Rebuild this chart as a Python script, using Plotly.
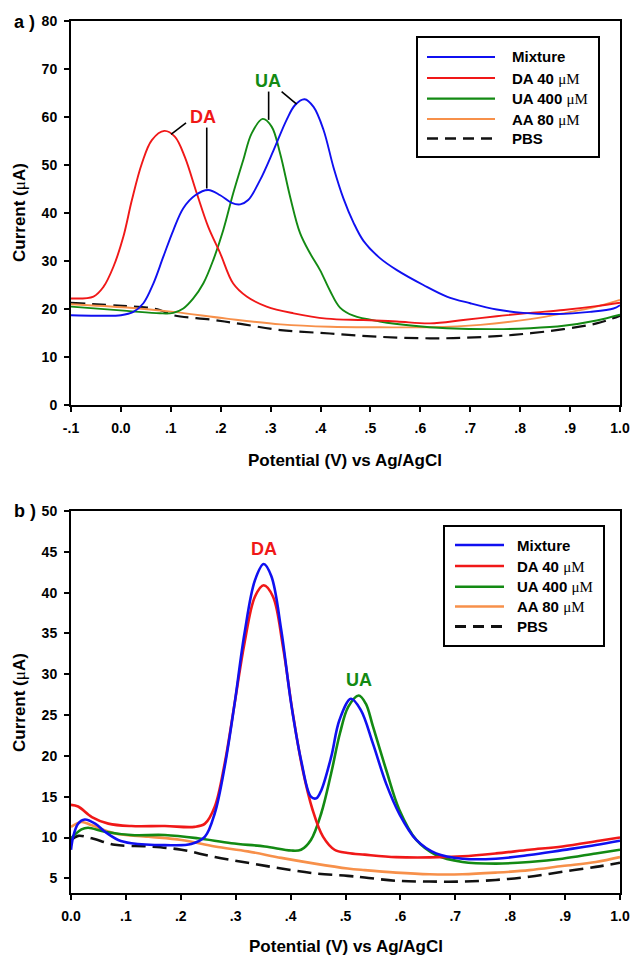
import plotly.graph_objects as go

W, H = 630, 958

# ---------------- data: panel a ----------------
a_mix_x = [-0.1, -0.05, 0.0, 0.025, 0.045, 0.065, 0.085, 0.105, 0.125, 0.149, 0.175, 0.199, 0.222, 0.239,
           0.255, 0.279, 0.306, 0.332, 0.349, 0.368, 0.386, 0.406, 0.426, 0.446, 0.466, 0.486, 0.519, 0.553,
           0.606, 0.653, 0.70, 0.753, 0.806, 0.873, 0.94, 0.987, 1.0]
a_mix_y = [18.7, 18.6, 18.7, 19.4, 21.2, 25.3, 30.9, 36.4, 41.0, 43.7, 44.8, 43.7, 42.1, 41.8,
           42.7, 46.9, 53.1, 59.4, 62.5, 63.7, 62.1, 57.3, 49.5, 43.0, 38.0, 34.2, 30.6, 28.1,
           25.0, 22.6, 21.2, 19.9, 19.2, 18.96, 19.4, 20.1, 20.8]

a_da_x = [-0.1, -0.055, -0.035, -0.015, 0.005, 0.022, 0.042, 0.062, 0.087, 0.108, 0.128, 0.152, 0.175,
          0.199, 0.225, 0.252, 0.292, 0.346, 0.412, 0.486, 0.553, 0.619, 0.686, 0.753, 0.82, 0.887, 0.953, 1.0]
a_da_y = [22.2, 22.6, 24.6, 28.8, 35.1, 42.7, 50.3, 55.2, 57.1, 55.9, 51.7, 44.1, 37.1,
          31.6, 25.3, 22.6, 20.5, 19.1, 18.0, 17.7, 17.4, 17.0, 17.7, 18.5, 19.2, 19.8, 20.6, 21.3]

a_ua_x = [-0.1, 0.012, 0.078, 0.105, 0.125, 0.145, 0.165, 0.185, 0.205, 0.225, 0.245, 0.262, 0.284,
          0.302, 0.319, 0.339, 0.359, 0.379, 0.399, 0.419, 0.439, 0.466, 0.519, 0.586, 0.653, 0.753,
          0.82, 0.887, 0.953, 1.0]
a_ua_y = [20.5, 19.6, 19.1, 19.2, 20.1, 22.2, 25.3, 30.2, 36.4, 44.1, 51.0, 56.6, 59.6,
          58.0, 52.4, 43.4, 35.8, 31.6, 28.1, 23.8, 20.3, 18.6, 17.4, 16.5, 16.0, 15.8,
          16.0, 16.5, 17.6, 18.8]

a_aa_x = [-0.1, 0.012, 0.105, 0.212, 0.32, 0.419, 0.519, 0.619, 0.72, 0.82, 0.887, 0.953, 1.0]
a_aa_y = [21.0, 20.3, 19.4, 18.0, 16.8, 16.3, 16.2, 16.2, 16.7, 17.9, 19.1, 20.5, 21.9]

a_pbs_x = [-0.1, 0.012, 0.052, 0.078, 0.105, 0.179, 0.24, 0.32, 0.419, 0.519, 0.619, 0.686, 0.786,
           0.887, 0.953, 1.0]
a_pbs_y = [21.3, 20.6, 20.3, 19.8, 18.7, 17.8, 16.9, 15.6, 14.9, 14.2, 13.9, 14.0, 14.6,
           15.8, 17.0, 18.6]

# ---------------- data: panel b ----------------
b_mix_x = [0.0, 0.004, 0.013, 0.025, 0.044, 0.062, 0.086, 0.11, 0.171, 0.219, 0.244, 0.262, 0.28, 0.298,
           0.316, 0.335, 0.351, 0.365, 0.383, 0.401, 0.419, 0.437, 0.447, 0.456, 0.474, 0.489, 0.51,
           0.528, 0.55, 0.574, 0.598, 0.629, 0.665, 0.713, 0.774, 0.835, 0.895, 0.956, 1.0]
b_mix_y = [8.5, 10.1, 11.7, 12.2, 11.7, 10.7, 9.7, 9.3, 9.07, 9.2, 10.1, 13.0, 18.7, 26.4,
           35.0, 41.5, 43.5, 42.0, 35.4, 26.4, 19.5, 15.0, 14.8, 15.8, 19.9, 24.4, 27.0,
           25.6, 21.5, 16.6, 12.9, 9.7, 8.05, 7.4, 7.4, 7.85, 8.45, 9.07, 9.6]

b_da_x = [0.0, 0.013, 0.038, 0.068, 0.11, 0.171, 0.225, 0.244, 0.262, 0.28, 0.298, 0.316, 0.335, 0.351,
          0.368, 0.386, 0.404, 0.422, 0.44, 0.459, 0.48, 0.504, 0.535, 0.592, 0.653, 0.713, 0.774,
          0.835, 0.895, 0.962, 1.0]
b_da_y = [14.0, 13.8, 12.5, 11.7, 11.4, 11.4, 11.3, 11.7, 13.8, 19.1, 26.4, 33.8, 39.5, 40.9,
          39.5, 33.4, 25.2, 18.3, 13.4, 10.1, 8.5, 8.1, 7.9, 7.6, 7.56, 7.7, 8.05,
          8.5, 8.9, 9.6, 10.0]

b_ua_x = [0.0, 0.019, 0.031, 0.062, 0.11, 0.171, 0.231, 0.292, 0.353, 0.401, 0.419, 0.437, 0.456, 0.474,
          0.49, 0.505, 0.524, 0.537, 0.55, 0.574, 0.598, 0.629, 0.665, 0.713, 0.774, 0.835, 0.895,
          0.956, 1.0]
b_ua_y = [9.9, 11.0, 11.2, 10.7, 10.3, 10.3, 9.9, 9.3, 8.9, 8.4, 8.5, 9.7, 13.0, 17.9,
          22.8, 26.0, 27.4, 26.4, 23.6, 18.3, 13.4, 9.7, 7.85, 7.0, 6.8, 7.0, 7.4,
          8.05, 8.5]

b_aa_x = [0.0, 0.019, 0.038, 0.08, 0.141, 0.201, 0.262, 0.322, 0.383, 0.444, 0.504, 0.535, 0.592,
          0.653, 0.713, 0.774, 0.835, 0.895, 0.956, 1.0]
b_aa_y = [11.3, 11.9, 11.5, 10.5, 10.1, 9.7, 8.9, 8.3, 7.5, 6.8, 6.2, 6.0, 5.7,
          5.5, 5.5, 5.7, 6.0, 6.5, 7.0, 7.6]

b_pbs_x = [0.0, 0.013, 0.038, 0.08, 0.141, 0.201, 0.262, 0.322, 0.383, 0.444, 0.504, 0.535, 0.592,
           0.653, 0.713, 0.774, 0.835, 0.895, 0.956, 1.0]
b_pbs_y = [9.7, 10.2, 9.9, 9.1, 8.9, 8.5, 7.6, 6.9, 6.2, 5.6, 5.3, 5.1, 4.7,
           4.6, 4.6, 4.8, 5.2, 5.8, 6.4, 6.9]

# ---------------- labels ----------------
MU = "<span style='font-family:Liberation Serif;font-weight:normal'>&#956;M</span>"
series_names = ["Mixture", "DA 40 " + MU, "UA 400 " + MU, "AA 80 " + MU, "PBS"]
series_colors = ["#1010f0", "#f01818", "#138a13", "#f7904a", "#111111"]
series_dash = ["solid", "solid", "solid", "solid", "14px,7px"]

a_xticks = [-0.1, 0.0, 0.1, 0.2, 0.3, 0.4, 0.5, 0.6, 0.7, 0.8, 0.9, 1.0]
a_xticktext = ["-.1", "0.0", ".1", ".2", ".3", ".4", ".5", ".6", ".7", ".8", ".9", "1.0"]
b_xticks = [0.0, 0.1, 0.2, 0.3, 0.4, 0.5, 0.6, 0.7, 0.8, 0.9, 1.0]
b_xticktext = ["0.0", ".1", ".2", ".3", ".4", ".5", ".6", ".7", ".8", ".9", "1.0"]
a_yticks = [0, 10, 20, 30, 40, 50, 60, 70, 80]
b_yticks = [5, 10, 15, 20, 25, 30, 35, 40, 45, 50]

xtitle = "Potential (V) vs Ag/AgCl"
ytitle = "Current (<span style='font-family:Liberation Serif;font-weight:normal'>&#956;</span>A)"

FONT = "Liberation Sans, Arial, sans-serif"

fig = go.Figure()

panel_a = [(a_mix_x, a_mix_y), (a_da_x, a_da_y), (a_ua_x, a_ua_y), (a_aa_x, a_aa_y), (a_pbs_x, a_pbs_y)]
panel_b = [(b_mix_x, b_mix_y), (b_da_x, b_da_y), (b_ua_x, b_ua_y), (b_aa_x, b_aa_y), (b_pbs_x, b_pbs_y)]

draw_order = [4, 3, 2, 1, 0]
for i in draw_order:
    xs, ys = panel_a[i]
    fig.add_trace(go.Scatter(x=xs, y=ys, mode="lines", xaxis="x", yaxis="y", showlegend=False,
                             line=dict(color=series_colors[i], width=2.2 if i == 4 else 1.9,
                                       dash=series_dash[i], shape="spline", smoothing=1.0),
                             name=series_names[i]))
for i in draw_order:
    xs, ys = panel_b[i]
    fig.add_trace(go.Scatter(x=xs, y=ys, mode="lines", xaxis="x2", yaxis="y2", showlegend=False,
                             line=dict(color=series_colors[i], width=2.6,
                                       dash=series_dash[i], shape="spline", smoothing=1.0),
                             name=series_names[i]))

# window pixel -> paper fraction
def px_x(p):
    return p / W

def px_y(p):
    return 1 - p / H

axis_common = dict(showline=True, linecolor="black", linewidth=2, mirror=True, ticks="outside",
                   ticklen=5, tickwidth=2, tickcolor="black", showgrid=False, zeroline=False,
                   automargin=False, ticklabeloverflow="allow",
                   tickfont=dict(family=FONT, size=14, color="black", weight="bold"),
                   ticklabelstandoff=4)

fig.update_layout(
    template="none",
    width=W, height=H, margin=dict(l=0, r=0, t=0, b=0, pad=0), autosize=False,
    paper_bgcolor="white", plot_bgcolor="white", showlegend=False,
    xaxis=dict(domain=[px_x(71), px_x(620)], anchor="y", range=[-0.1, 1.0],
               tickvals=a_xticks, ticktext=a_xticktext, **axis_common),
    yaxis=dict(domain=[px_y(405), px_y(21)], anchor="x", range=[0, 80],
               tickvals=a_yticks, **axis_common),
    xaxis2=dict(domain=[px_x(71), px_x(620)], anchor="y2", range=[0, 1.0],
                tickvals=b_xticks, ticktext=b_xticktext, **axis_common),
    yaxis2=dict(domain=[px_y(893), px_y(511)], anchor="x2", range=[3.2, 50],
                tickvals=b_yticks, **axis_common),
)

ann = []
shapes = []

def text(x, y, s, size, color="black", xanchor="center", yanchor="middle", angle=0, xref="paper", yref="paper"):
    ann.append(dict(x=x, y=y, xref=xref, yref=yref, text=s, showarrow=False, xanchor=xanchor,
                    yanchor=yanchor, textangle=angle,
                    font=dict(family=FONT, size=size, color=color, weight="bold")))

# axis titles and panel labels
text(px_x(345), px_y(461), xtitle, 17)
text(px_x(346), px_y(946), xtitle, 17)
text(px_x(19), px_y(213), ytitle, 17, angle=-90)
text(px_x(19), px_y(703), ytitle, 17, angle=-90)
text(px_x(12), px_y(21.5), "a )", 18, xanchor="left")
text(px_x(12), px_y(511.5), "b )", 18, xanchor="left")

# peak labels
text(0.1646, 60.0, "DA", 18, color=series_colors[1], xref="x", yref="y")
text(0.294, 67.6, "UA", 18, color=series_colors[2], xref="x", yref="y")
text(0.352, 45.3, "DA", 18, color=series_colors[1], xref="x2", yref="y2")
text(0.524, 29.3, "UA", 18, color=series_colors[2], xref="x2", yref="y2")

# leader lines (panel a)
for (x0, y0, x1, y1) in [(0.1305, 58.8, 0.1004, 56.4), (0.172, 57.8, 0.172, 45.1),
                         (0.296, 65.3, 0.296, 59.4), (0.322, 65.3, 0.352, 62.7)]:
    shapes.append(dict(type="line", xref="x", yref="y", x0=x0, y0=y0, x1=x1, y1=y1,
                       line=dict(color="black", width=1.6)))

# manual legends
def legend(box, rows, line_x, text_x, lw):
    l, t, r, b = box
    shapes.append(dict(type="rect", xref="paper", yref="paper", x0=px_x(l), x1=px_x(r),
                       y0=px_y(b), y1=px_y(t), line=dict(color="black", width=2),
                       fillcolor="white", layer="above"))
    for i, ry in enumerate(rows):
        shapes.append(dict(type="line", xref="paper", yref="paper", x0=px_x(line_x[0]), x1=px_x(line_x[1]),
                           y0=px_y(ry), y1=px_y(ry),
                           line=dict(color=series_colors[i], width=lw + (0.4 if i == 4 else 0),
                                     dash="11px,7px" if i == 4 else "solid"), layer="above"))
        text(px_x(text_x), px_y(ry), series_names[i], 15, xanchor="left")

legend((417, 37, 599, 157), [57, 78, 98.7, 119, 138.5], (427, 495), 510, 2.2)
legend((444, 526, 604, 646), [545, 566, 586.7, 606.5, 626.5], (455, 504), 515, 2.6)

fig.update_layout(annotations=ann, shapes=shapes)

# remove the default page margin so the 630x958 figure fills the window exactly
fig.write_html("out.html", config={"displayModeBar": False, "staticPlot": True},
               post_script="document.body.style.margin='0px';document.body.style.overflow='hidden';")
